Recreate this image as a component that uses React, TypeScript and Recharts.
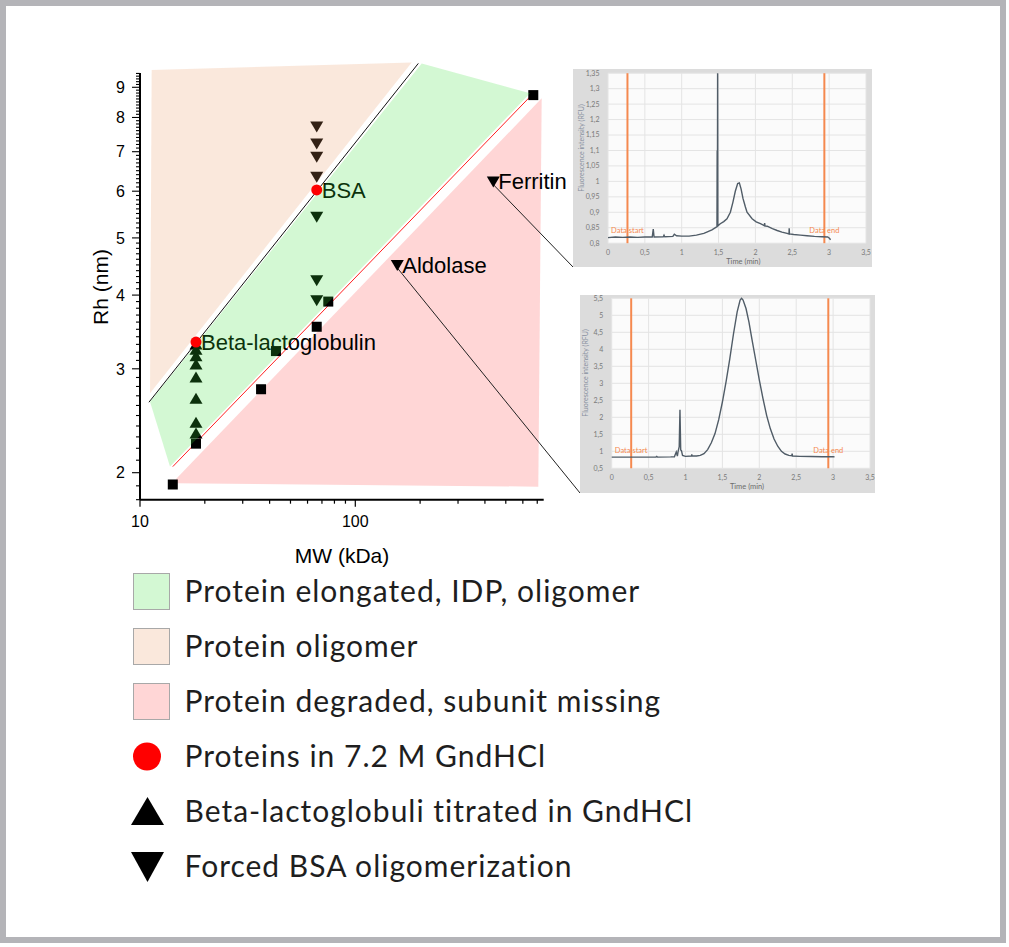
import React from 'react';
import {
  ScatterChart, Scatter, XAxis, YAxis, ReferenceLine,
  LineChart, Line, CartesianGrid,
} from 'recharts';

// ---- main plot: MW (kDa) vs Rh (nm), log-log ----
const nativeProteins = [
  { mw: 14.2, rh: 1.91 }, { mw: 18.2, rh: 2.24 }, { mw: 36.5, rh: 2.77 },
  { mw: 42.8, rh: 3.215 }, { mw: 66.2, rh: 3.535 }, { mw: 74.9, rh: 3.9 },
  { mw: 671, rh: 8.73 },
];
const denatured = [
  { mw: 18.2, rh: 3.33, name: 'Beta-lactoglobulin' },
  { mw: 66.2, rh: 6.03, name: 'BSA' },
];
const betaTitrationRh = [3.3, 3.23, 3.15, 3.05, 2.9, 2.67, 2.43, 2.33];
const bsaOligomerRh = [7.72, 7.23, 6.86, 6.35, 5.43, 4.24, 3.92];
const betaMw = 18.2;
const bsaMw = 66.2;
const namedProteins = [
  { mw: 156.7, rh: 4.5, name: 'Aldolase' },
  { mw: 437.5, rh: 6.23, name: 'Ferritin' },
];
const unfoldedLine = [{ mw: 11.0, rh: 2.633 }, { mw: 196.2, rh: 9.88 }];
const globularLine = [{ mw: 14.2, rh: 2.048 }, { mw: 671, rh: 8.79 }];
const oligomerZone = [{ mw: 11.33, rh: 9.63 }, { mw: 182.8, rh: 9.91 }, { mw: 11.13, rh: 2.727 }];
const elongatedZone = [
  { mw: 11.13, rh: 2.638 }, { mw: 203.4, rh: 9.88 }, { mw: 648, rh: 8.79 }, { mw: 13.78, rh: 2.048 },
];
const degradedZone = [
  { mw: 14.81, rh: 1.957 }, { mw: 734, rh: 8.62 }, { mw: 708, rh: 1.894 }, { mw: 14.54, rh: 1.919 },
];

const xMajor = [10, 100];
const xMinor = [20, 30, 40, 50, 60, 70, 80, 90, 200, 300, 400, 500, 600, 700];
const yMajor = [2, 3, 4, 5, 6, 7, 8, 9];
// minor ticks every 0.1 nm
const yTicks = Array.from({ length: 78 }, (_, i) => +(1.8 + i * 0.1).toFixed(1));

// ---- inset chromatograms: [time (min), fluorescence (RFU)] ----
const traceFerritin = [
  [0, 0.818], [0.1, 0.82], [0.2, 0.819], [0.3, 0.82], [0.4, 0.819], [0.5, 0.82], [0.6, 0.82],
  [0.614, 0.846], [0.625, 0.82], [0.75, 0.821], [0.76, 0.826], [0.77, 0.821], [0.88, 0.822],
  [0.9, 0.829], [0.93, 0.824], [1.0, 0.823], [1.1, 0.823], [1.2, 0.826], [1.3, 0.832],
  [1.34, 0.836], [1.41, 0.843], [1.468, 0.852], [1.478, 0.853], [1.481, 1.1], [1.484, 0.854],
  [1.487, 1.35], [1.49, 0.856], [1.523, 0.863], [1.57, 0.87], [1.614, 0.879], [1.66, 0.9],
  [1.695, 0.933], [1.727, 0.968], [1.759, 0.993], [1.782, 0.995], [1.805, 0.976], [1.832, 0.944],
  [1.864, 0.917], [1.886, 0.9], [1.955, 0.879], [2.01, 0.869], [2.068, 0.863], [2.12, 0.857],
  [2.125, 0.865], [2.13, 0.856], [2.16, 0.855], [2.23, 0.847], [2.295, 0.841], [2.36, 0.836],
  [2.43, 0.832], [2.455, 0.83], [2.458, 0.848], [2.462, 0.83], [2.52, 0.828], [2.61, 0.826],
  [2.7, 0.824], [2.8, 0.822], [2.9, 0.821], [2.98, 0.82], [3.0, 0.817], [3.02, 0.811],
];
const traceAldolase = [
  [0, 0.83], [0.2, 0.83], [0.4, 0.83], [0.6, 0.83], [0.61, 0.85], [0.62, 0.83], [0.8, 0.835],
  [0.85, 0.84], [0.86, 0.9], [0.875, 0.98], [0.89, 0.86], [0.9, 1.0], [0.915, 1.14], [0.925, 2.22],
  [0.935, 1.04], [0.945, 1.02], [0.96, 0.88], [1.0, 0.85], [1.08, 0.86], [1.085, 0.91], [1.09, 0.86],
  [1.15, 0.86], [1.2, 0.88], [1.25, 0.93], [1.3, 1.05], [1.35, 1.25], [1.4, 1.52], [1.45, 1.93],
  [1.5, 2.45], [1.55, 3.05], [1.6, 3.72], [1.65, 4.45], [1.7, 5.1], [1.74, 5.45], [1.76, 5.5],
  [1.78, 5.45], [1.82, 5.2], [1.86, 4.8], [1.9, 4.3], [1.95, 3.7], [2.0, 3.1], [2.05, 2.55],
  [2.1, 2.05], [2.15, 1.66], [2.2, 1.36], [2.25, 1.15], [2.3, 1.0], [2.35, 0.92], [2.4, 0.88],
  [2.44, 0.87], [2.445, 0.93], [2.45, 0.86], [2.55, 0.85], [2.7, 0.845], [2.85, 0.84], [3.0, 0.84],
  [3.02, 0.835],
];
const timeTicks = [0, 0.5, 1, 1.5, 2, 2.5, 3, 3.5];
const ferritinTicks = [0.8, 0.85, 0.9, 0.95, 1, 1.05, 1.1, 1.15, 1.2, 1.25, 1.3, 1.35];
const aldolaseTicks = [0.5, 1, 1.5, 2, 2.5, 3, 3.5, 4, 4.5, 5, 5.5];

const legendItems = [
  { label: 'Protein elongated, IDP, oligomer', kind: 'box', color: '#d3f8d3' },
  { label: 'Protein oligomer', kind: 'box', color: '#fae8dc' },
  { label: 'Protein degraded, subunit missing', kind: 'box', color: '#ffd6d6' },
  { label: 'Proteins in 7.2 M GndHCl', kind: 'circle', color: '#ff0000' },
  { label: 'Beta-lactoglobuli titrated in GndHCl', kind: 'up', color: '#000' },
  { label: 'Forced BSA oligomerization', kind: 'down', color: '#000' },
];

// where the leader lines of the named proteins end (page px, at the insets)
const leaderEnds: Record<string, [number, number]> = { Ferritin: [573, 267], Aldolase: [580, 493] };

const ARIAL = '"Liberation Sans", Arial, sans-serif';

const none = () => <g />;
const zone = (fill: string, alpha: number) => (p: any) => (
  <polygon points={p.points.map((q: any) => `${q.x},${q.y}`).join(' ')} fill={fill} fillOpacity={alpha} stroke="none" />
);

const SquareMark = ({ cx, cy }: any) => <rect x={cx - 5} y={cy - 5} width={10} height={10} fill="#000" />;
const UpMark = ({ cx, cy }: any) => (
  <polygon points={`${cx},${cy - 6} ${cx + 6.5},${cy + 5} ${cx - 6.5},${cy + 5}`} fill="#000" />
);
const DownMark = ({ cx, cy }: any) => (
  <polygon points={`${cx - 6.5},${cy - 5} ${cx + 6.5},${cy - 5} ${cx},${cy + 6}`} fill="#000" />
);
const RedDot = ({ cx, cy }: any) => <circle cx={cx} cy={cy} r={5.5} fill="#ff0000" />;
const NameOnly = ({ cx, cy, payload }: any) => (
  <text x={cx + 5} y={cy} dy="0.36em" fontSize={22} fill="#000">{payload.name}</text>
);
const NamedMark = ({ cx, cy, payload }: any) => {
  const end = leaderEnds[payload.name];
  return (
    <g>
      <line x1={cx} y1={cy + 3} x2={end[0]} y2={end[1]} stroke="#222" strokeWidth={1} />
      <polygon points={`${cx - 6.5},${cy - 5} ${cx + 6.5},${cy - 5} ${cx},${cy + 6}`} fill="#000" />
      <text x={cx + 5} y={cy} dy="0.36em" fontSize={22} fill="#000">{payload.name}</text>
    </g>
  );
};

const XTick = ({ x, y, payload }: any) => {
  const major = xMajor.includes(payload.value);
  return (
    <g>
      <line x1={x} x2={x} y1={y} y2={y + (major ? 7 : 4)} stroke="#000" strokeWidth={1.2} />
      {major && <text x={x} y={y + 22} dy="0.36em" textAnchor="middle" fontSize={16} fill="#000">{payload.value}</text>}
    </g>
  );
};
const YTick = ({ x, y, payload }: any) => {
  const major = yMajor.includes(payload.value);
  return (
    <g>
      <line x1={x - (major ? 8 : 4)} x2={x} y1={y} y2={y} stroke="#000" strokeWidth={1.1} />
      {major && <text x={x - 15} y={y} dy="0.36em" textAnchor="end" fontSize={16} fill="#000">{payload.value}</text>}
    </g>
  );
};

function MainPlot() {
  const betaPts = betaTitrationRh.map((rh) => ({ mw: betaMw, rh }));
  const bsaPts = bsaOligomerRh.map((rh) => ({ mw: bsaMw, rh }));
  return (
    <ScatterChart width={600} height={580} margin={{ top: 55.23, right: 56.3, bottom: 50.31, left: 80 }}>
      <XAxis type="number" dataKey="mw" scale="log" domain={[10, 750]} ticks={[...xMajor, ...xMinor]}
        interval={0} height={30} tickSize={0} tickMargin={0} tickLine={false} tick={XTick}
        axisLine={{ stroke: '#000', strokeWidth: 2 }} />
      <YAxis type="number" dataKey="rh" scale="log" domain={[1.8, 10.2]} ticks={yTicks}
        interval={0} width={60} tickSize={0} tickMargin={0} tickLine={false} tick={YTick} axisLine={false} />
      <Scatter data={degradedZone} shape={none} line={zone('#ffd6d6', 1)} isAnimationActive={false} />
      <Scatter data={globularLine} shape={none} line={{ stroke: '#ff2020', strokeWidth: 1 }} isAnimationActive={false} />
      <Scatter data={unfoldedLine} shape={none} line={{ stroke: '#111', strokeWidth: 1 }} isAnimationActive={false} />
      <Scatter data={nativeProteins} shape={SquareMark} isAnimationActive={false} />
      <Scatter data={betaPts} shape={UpMark} isAnimationActive={false} />
      <Scatter data={bsaPts} shape={DownMark} isAnimationActive={false} />
      <Scatter data={denatured} shape={NameOnly} isAnimationActive={false} />
      <Scatter data={elongatedZone} shape={none} line={zone('rgb(55,223,55)', 0.22)} isAnimationActive={false} />
      <Scatter data={oligomerZone} shape={none} line={zone('rgb(233,151,96)', 0.22)} isAnimationActive={false} />
      <Scatter data={denatured} shape={RedDot} isAnimationActive={false} />
      <Scatter data={namedProteins} shape={NamedMark} isAnimationActive={false} />
      <ReferenceLine segment={[{ x: 10, y: 1.8 }, { x: 10, y: 9.52 }]} stroke="#000" strokeWidth={2} ifOverflow="visible" />
    </ScatterChart>
  );
}

const comma = (v: number) => String(v).replace('.', ',');

function Chromatogram({ trace, yTicksList, box, margin, yTitle, xTitle, labelOffset }: any) {
  const data = trace.map(([t, v]: number[]) => ({ t, v }));
  const XT = ({ x, y, payload }: any) => (
    <text x={x} y={y + 9.5} dy="0.35em" textAnchor="middle" fontSize={7} fill="#7a7a7a">{comma(payload.value)}</text>
  );
  const YT = ({ x, y, payload }: any) => (
    <text x={x - 8.5} y={y} dy="0.35em" textAnchor="end" fontSize={7} fill="#7a7a7a">{comma(payload.value)}</text>
  );
  const orange = '#f5894f';
  return (
    <div style={{ position: 'absolute', left: box.left, top: box.top, width: box.width, height: box.height, background: '#dcdcdc', fontFamily: 'Lato, sans-serif' }}>
      <LineChart width={box.width} height={box.height} margin={margin} data={data}>
        <CartesianGrid stroke="#e4e4e4" fill="#fbfbfb" />
        <XAxis type="number" dataKey="t" domain={[0, 3.5]} ticks={timeTicks} interval={0} height={margin.xh}
          tickSize={0} tickMargin={0} axisLine={false} tickLine={false} tick={XT} />
        <YAxis type="number" domain={[yTicksList[0], yTicksList[yTicksList.length - 1]]} ticks={yTicksList}
          interval={0} width={30} tickSize={0} tickMargin={0} axisLine={false} tickLine={false} tick={YT} />
        <ReferenceLine x={0.264} stroke={orange} strokeWidth={2}
          label={{ value: 'Data start', position: 'insideBottom', fill: orange, fontSize: 7.5, offset: labelOffset }} />
        <ReferenceLine x={2.935} stroke={orange} strokeWidth={2}
          label={{ value: 'Data end', position: 'insideBottom', fill: orange, fontSize: 7.5, offset: labelOffset }} />
        <Line type="linear" dataKey="v" stroke="#505c67" strokeWidth={1.4} dot={false} isAnimationActive={false} />
      </LineChart>
      <div style={{ position: 'absolute', left: yTitle[0], top: yTitle[1], transform: 'translate(-50%,-50%) rotate(-90deg)', fontSize: 7, color: '#8890a0', whiteSpace: 'nowrap', lineHeight: 1 }}>
        Fluorescence intensity (RFU)
      </div>
      <div style={{ position: 'absolute', left: xTitle[0], top: xTitle[1], transform: 'translate(-50%,-50%)', fontSize: 7.5, color: '#6c6c6c', whiteSpace: 'nowrap', lineHeight: 1 }}>
        Time (min)
      </div>
    </div>
  );
}

function LegendIcon({ kind, color }: { kind: string; color: string }) {
  if (kind === 'box') {
    return <div style={{ width: 37, height: 37, boxSizing: 'border-box', background: color, border: '1px solid #a8a8a8' }} />;
  }
  return (
    <svg width={37} height={37}>
      {kind === 'circle' && <circle cx={17} cy={18.5} r={14} fill={color} />}
      {kind === 'up' && <polygon points="17.5,4 34,32 1,32" fill={color} />}
      {kind === 'down' && <polygon points="1,4 34,4 17.5,34" fill={color} />}
    </svg>
  );
}

export default function App() {
  return (
    <div style={{ position: 'absolute', left: 0, top: 0, width: 1009, height: 947, background: '#fff', overflow: 'hidden' }}>
      <div style={{ position: 'absolute', left: 0, top: 0, width: 1006, height: 943, boxSizing: 'border-box', border: '6px solid #b4b4b8' }} />
      <div style={{ position: 'absolute', left: 0, top: 0, fontFamily: ARIAL }}>
        <MainPlot />
      </div>
      <div style={{ position: 'absolute', left: 100, top: 287, transform: 'translate(-50%,-50%) rotate(-90deg)', fontFamily: ARIAL, fontSize: 21, lineHeight: 1, whiteSpace: 'nowrap' }}>
        Rh (nm)
      </div>
      <div style={{ position: 'absolute', left: 342, top: 555, transform: 'translate(-50%,-50%)', fontFamily: ARIAL, fontSize: 21, lineHeight: 1, whiteSpace: 'nowrap' }}>
        MW (kDa)
      </div>

      <Chromatogram trace={traceFerritin} yTicksList={ferritinTicks}
        box={{ left: 573, top: 68.5, width: 299, height: 198.5 }}
        margin={{ top: 4.2, right: 6, bottom: 8, left: 5, xh: 16.3 }}
        yTitle={[7.7, 79]} xTitle={[170.3, 193.2]} labelOffset={10} />
      <Chromatogram trace={traceAldolase} yTicksList={aldolaseTicks}
        box={{ left: 580, top: 295, width: 295, height: 198 }}
        margin={{ top: 3.3, right: 5, bottom: 8, left: 1.7, xh: 16.7 }}
        yTitle={[4.5, 78]} xTitle={[167, 192]} labelOffset={15} />

      {legendItems.map((item, i) => {
        const base = 601.7 + 55 * i;
        return (
          <div key={item.label}>
            <div style={{ position: 'absolute', left: item.kind === 'box' ? 132.5 : 130, top: base - 10.5 - 18.5 }}>
              <LegendIcon kind={item.kind} color={item.color} />
            </div>
            <div style={{ position: 'absolute', left: 184.5, top: base - 0.987 * 30, fontFamily: 'Lato, sans-serif', fontSize: 30, letterSpacing: 1, lineHeight: 1.2, color: '#1e1e1e', whiteSpace: 'nowrap' }}>
              {item.label}
            </div>
          </div>
        );
      })}
    </div>
  );
}
